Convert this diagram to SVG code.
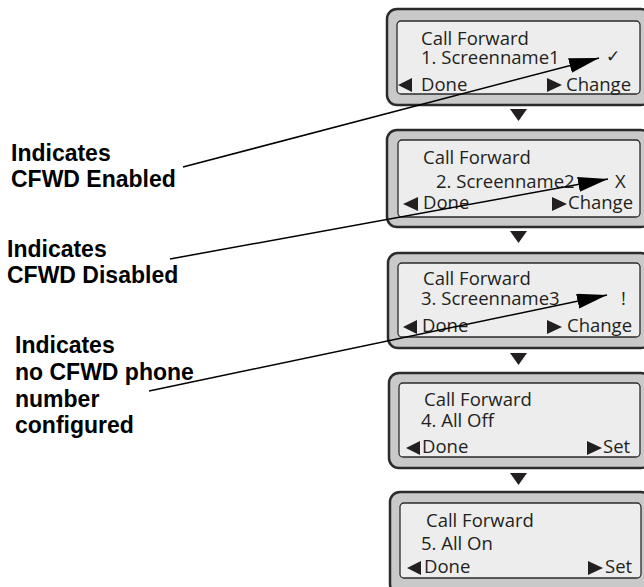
<svg xmlns="http://www.w3.org/2000/svg" width="644" height="587" viewBox="0 0 644 587">
<style>
.outer{fill:#c9c9c9;stroke:#2b2b2b;stroke-width:2.5}
.inner{fill:#ededed;stroke:#2b2b2b;stroke-width:1.3}
.t{font-family:"Open Sans","Noto Sans",sans-serif;font-size:18.5px;fill:#231f20}
.lbl{font-family:"Liberation Sans",Arial,sans-serif;font-size:23px;font-weight:bold;fill:#000}
.tri{fill:#231f20}
.ptr{stroke:#000;stroke-width:1.5;fill:none;marker-end:url(#head)}
</style>
<defs>
<marker id="head" markerUnits="userSpaceOnUse" markerWidth="32" markerHeight="16" refX="30" refY="7.5" orient="auto">
<path d="M0,0 L30,7.5 L0,15 z" fill="#000"/>
</marker>
</defs>
<rect width="644" height="587" fill="#fff"/>

<g id="label1">
<text class="lbl" x="11" y="161">Indicates</text>
<text class="lbl" x="11" y="187">CFWD Enabled</text>
</g>
<g id="label2">
<text class="lbl" x="7" y="257">Indicates</text>
<text class="lbl" x="7" y="283">CFWD Disabled</text>
</g>
<g id="label3">
<text class="lbl" x="15" y="353">Indicates</text>
<text class="lbl" x="15" y="380">no CFWD phone</text>
<text class="lbl" x="15" y="407">number</text>
<text class="lbl" x="15" y="433">configured</text>
</g>

<g id="screen1">
<rect class="outer" x="387" y="9" width="264" height="96" rx="10"/>
<rect class="inner" x="397" y="21" width="243" height="73" rx="4"/>
<text class="t" x="421" y="45">Call Forward</text>
<text class="t" x="421" y="64">1. Screenname1</text>
<text x="606" y="62" style="font-family:'DejaVu Sans',sans-serif;font-size:17px;fill:#231f20">✓</text>
<polygon class="tri" points="398,85 412,78 412,92"/>
<text class="t" x="421" y="91">Done</text>
<polygon class="tri" points="547,78 562,85 547,92"/>
<text class="t" x="566" y="91">Change</text>
</g>
<polygon class="tri" points="510,109 527,109 518.5,121"/>

<g id="screen2">
<rect class="outer" x="387" y="130" width="264" height="97" rx="10"/>
<rect class="inner" x="398" y="140" width="242" height="77" rx="4"/>
<text class="t" x="423" y="164">Call Forward</text>
<text class="t" x="436" y="188">2. Screenname2</text>
<text class="t" x="615" y="188">X</text>
<polygon class="tri" points="403,204 418,197 418,211"/>
<text class="t" x="423" y="209">Done</text>
<polygon class="tri" points="552,197 567,204 552,211"/>
<text class="t" x="568" y="209">Change</text>
</g>
<polygon class="tri" points="510,231 527,231 518.5,243"/>

<g id="screen3">
<rect class="outer" x="388" y="253" width="263" height="95" rx="10"/>
<rect class="inner" x="398" y="263" width="242" height="74" rx="4"/>
<text class="t" x="423" y="285">Call Forward</text>
<text class="t" x="421" y="305">3. Screenname3</text>
<text class="t" x="621" y="305">!</text>
<polygon class="tri" points="403,327 417,320 417,334"/>
<text class="t" x="422" y="332">Done</text>
<polygon class="tri" points="547,320 562,327 547,334"/>
<text class="t" x="567" y="332">Change</text>
</g>
<polygon class="tri" points="510,353 527,353 518.5,365"/>

<g id="screen4">
<rect class="outer" x="389" y="373" width="262" height="95" rx="10"/>
<rect class="inner" x="399" y="383" width="241" height="74" rx="4"/>
<text class="t" x="424" y="406">Call Forward</text>
<text class="t" x="421" y="427">4. All Off</text>
<polygon class="tri" points="406,448 420,441 420,455"/>
<text class="t" x="422" y="453">Done</text>
<polygon class="tri" points="587,441 602,448 587,455"/>
<text class="t" x="603" y="453">Set</text>
</g>
<polygon class="tri" points="510,473 527,473 518.5,485"/>

<g id="screen5">
<rect class="outer" x="390" y="492" width="261" height="102" rx="10"/>
<rect class="inner" x="400" y="503" width="241" height="75" rx="4"/>
<text class="t" x="426" y="527">Call Forward</text>
<text class="t" x="421" y="550">5. All On</text>
<polygon class="tri" points="407,568 421,561 421,575"/>
<text class="t" x="424" y="573">Done</text>
<polygon class="tri" points="588,561 603,568 588,575"/>
<text class="t" x="605" y="573">Set</text>
</g>

<g id="connectors">
<line class="ptr" x1="183" y1="167" x2="599" y2="58"/>
<line class="ptr" x1="170" y1="259" x2="608" y2="179"/>
<line class="ptr" x1="149" y1="391" x2="607" y2="295"/>
</g>
</svg>
